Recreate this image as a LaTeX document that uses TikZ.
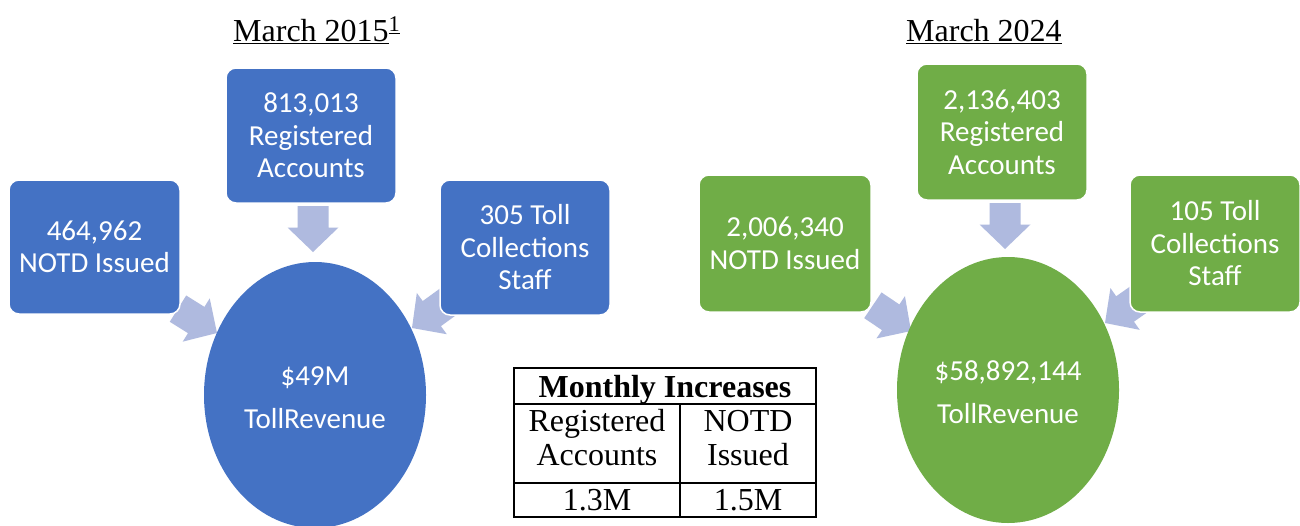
\documentclass[tikz,border=0pt]{standalone}
\usepackage{fontspec}
\setmainfont{Liberation Serif}
\newfontfamily\carlito{Carlito}
\usetikzlibrary{shapes.geometric}
\definecolor{boxblue}{HTML}{4472C4}
\definecolor{boxgreen}{HTML}{70AD47}
\definecolor{arrowfill}{HTML}{AFBADF}
\tikzset{
  fatarrow/.pic={\fill[arrowfill] (0,0) -- (-24.5,25.5) -- (-24.5,15.5) -- (-46,15.5) -- (-46,-15.5) -- (-24.5,-15.5) -- (-24.5,-25.5) -- cycle;},
  card/.style={rounded corners=10pt, draw=white, line width=1.5pt, text=white, align=center, inner sep=0pt,
    font=\carlito\fontsize{29}{32.5}\selectfont},
  bluecard/.style={card, fill=boxblue},
  greencard/.style={card, fill=boxgreen},
  oval/.style={ellipse, inner sep=0pt, minimum width=222pt, minimum height=266pt},
  ovaltext/.style={text=white, align=center, inner sep=0pt, font=\carlito\fontsize{29}{43}\selectfont},
  title/.style={anchor=base west, inner sep=0pt, font=\fontsize{32}{36}\selectfont},
  cell/.style={anchor=base, inner sep=0pt, font=\fontsize{32}{36}\selectfont},
  rule/.style={line width=1.5pt, black}
}
\begin{document}
\begin{tikzpicture}[x=1pt,y=-1pt]
\useasboundingbox[fill=white] (0,0) rectangle (1300,525);
% titles
\node[title] (t1) at (233,41) {\underline{March 2015}\textsuperscript{\underline{1}}};
\node[title] (t2) at (906,41) {\underline{March 2024}};
% arrows (blue)
\pic[rotate=-90] (ab1) at (313,252) {fatarrow};
\pic[rotate=-32] (ab2) at (217,333) {fatarrow};
\pic[rotate=-144] (ab3) at (412,328) {fatarrow};
% arrows (green)
\pic[rotate=-90] (ag1) at (1005,249) {fatarrow};
\pic[rotate=-34] (ag2) at (911,331) {fatarrow};
\pic[rotate=-145] (ag3) at (1105,323) {fatarrow};
% blue side
\node[bluecard, minimum width=171pt, minimum height=134pt] (bl) at (94.5,247) {464,962\\NOTD Issued};
\node[bluecard, minimum width=170pt, minimum height=135pt] (bt) at (311,135.5) {813,013\\Registered\\Accounts};
\node[bluecard, minimum width=170pt, minimum height=135pt] (br) at (525,247.5) {305 Toll\\Collections\\Staff};
\node[oval, fill=boxblue] (be) at (315,395) {};
\node[ovaltext] (bet) at (315,398) {\$49M\\TollRevenue};
% green side
\node[greencard, minimum width=172pt, minimum height=137pt] (gl) at (785,243.5) {2,006,340\\NOTD Issued};
\node[greencard, minimum width=170pt, minimum height=136pt] (gt) at (1002,132) {2,136,403\\Registered\\Accounts};
\node[greencard, minimum width=170pt, minimum height=137pt] (gr) at (1215,243.5) {105 Toll\\Collections\\Staff};
\node[oval, fill=boxgreen] (ge) at (1008,390) {};
\node[ovaltext] (get) at (1008,392) {\$58,892,144\\TollRevenue};
% table
\coordinate (tl) at (514,368);
\coordinate (tr) at (816,517);
\draw[rule] (tl) rectangle (tr);
\draw[rule] (514,404) -- (816,404);
\draw[rule] (514,483) -- (816,483);
\draw[rule] (680,404) -- (680,517);
\node[cell, font=\bfseries\fontsize{32}{36}\selectfont] (th) at (665,397) {Monthly Increases};
\node[cell] (c1a) at (597,431) {Registered};
\node[cell] (c1b) at (597,465) {Accounts};
\node[cell] (c2a) at (748,431) {NOTD};
\node[cell] (c2b) at (748,465) {Issued};
\node[cell] (c1c) at (597,510) {1.3M};
\node[cell] (c2c) at (748,510) {1.5M};
\end{tikzpicture}
\end{document}
